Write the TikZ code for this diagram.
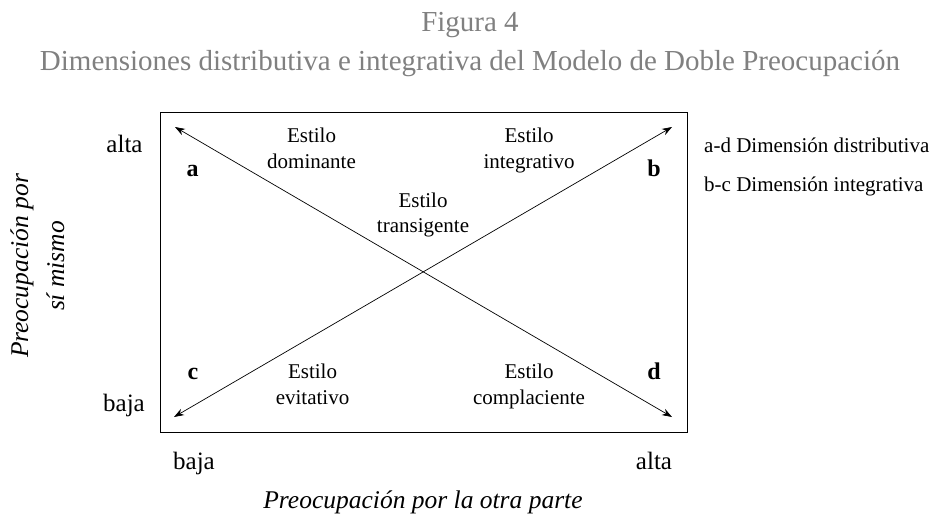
\documentclass[tikz,border=0pt]{standalone}
\usepackage{fontspec}
\setmainfont{Liberation Serif}
\usetikzlibrary{arrows.meta}
\definecolor{titlegray}{RGB}{128,128,128}
\tikzset{
  lbl/.style={font=\fontsize{21}{25}\selectfont, inner sep=0pt, anchor=base},
  corner/.style={font=\fontsize{24}{26}\selectfont\bfseries, inner sep=0pt, anchor=base},
  axis/.style={font=\fontsize{25}{27}\selectfont, inner sep=0pt, anchor=base},
  axistitle/.style={font=\fontsize{25.5}{27}\selectfont\itshape, inner sep=0pt, anchor=base},
  legend/.style={font=\fontsize{21}{23}\selectfont, inner sep=0pt, anchor=base west},
  ttl/.style={font=\fontsize{29}{31}\selectfont, text=titlegray, inner sep=0pt, anchor=base},
  dim/.style={{Stealth[length=10pt,width=7pt]}-{Stealth[length=10pt,width=7pt]}, line width=0.7pt}
}
\begin{document}
\begin{tikzpicture}[x=1pt,y=-1pt]
\useasboundingbox (0,0) rectangle (940,515);
\node[ttl] (t1) at (470,31) {Figura 4};
\node[ttl] (t2) at (470,70) {Dimensiones distributiva e integrativa del Modelo de Doble Preocupación};
\node[draw, line width=0.8pt, minimum width=527pt, minimum height=320pt, inner sep=0pt] (box) at (423.5,272) {};
\coordinate (a) at (175,127);
\coordinate (b) at (672,127);
\coordinate (c) at (174,417);
\coordinate (d) at (672,417);
\draw[dim] (a) -- (d);
\draw[dim] (c) -- (b);
\node[corner] (la) at (192.5,176) {a};
\node[corner] (lb) at (654,176) {b};
\node[corner] (lc) at (193,379) {c};
\node[corner] (ld) at (654,379) {d};
\node[lbl] (dom1) at (311.5,142) {Estilo};
\node[lbl] (dom2) at (311.5,168) {dominante};
\node[lbl] (int1) at (529,142) {Estilo};
\node[lbl] (int2) at (529,168) {integrativo};
\node[lbl] (tra1) at (423,207) {Estilo};
\node[lbl] (tra2) at (423,232) {transigente};
\node[lbl] (evi1) at (312.5,378) {Estilo};
\node[lbl] (evi2) at (312.5,404) {evitativo};
\node[lbl] (com1) at (529,378) {Estilo};
\node[lbl] (com2) at (529,404) {complaciente};
\node[axis] (yalta) at (124.5,152) {alta};
\node[axis] (ybaja) at (124,411) {baja};
\node[axis] (xbaja) at (194,469) {baja};
\node[axis] (xalta) at (654,469) {alta};
\node[axistitle] (xt) at (423,508) {Preocupación por la otra parte};
\node[axistitle, rotate=90] (yt1) at (28,266) {Preocupación por};
\node[axistitle, rotate=90] (yt2) at (64,266) {sí mismo};
\node[legend] (l1) at (704,152) {a-d Dimensión distributiva};
\node[legend] (l2) at (704,191) {b-c Dimensión integrativa};
\end{tikzpicture}
\end{document}
